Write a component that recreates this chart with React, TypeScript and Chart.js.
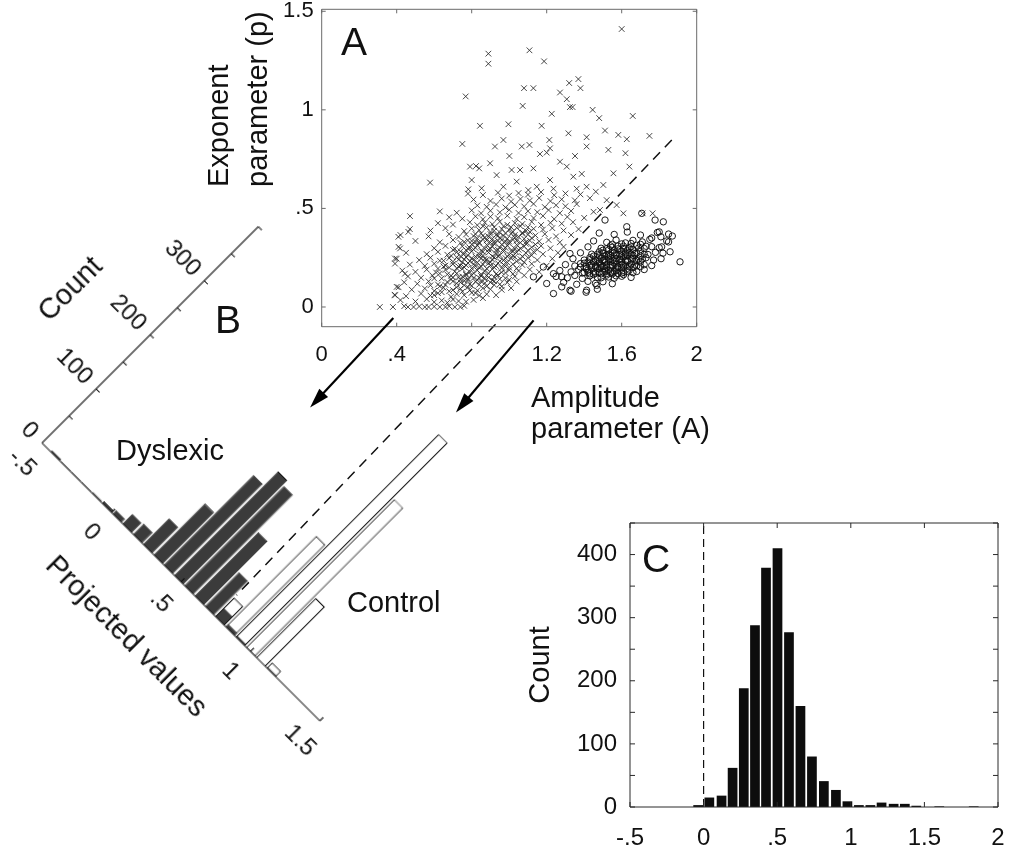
import React, { useEffect, useRef } from 'react';
import { Chart, registerables } from 'chart.js';

Chart.register(...registerables);

const FONT = '"Liberation Sans", Arial, Helvetica, sans-serif';

// ---------- Panel A : scatter of (Amplitude, Exponent) ----------
const dyslexicPts: [number, number][] = [
  [0.31,0],[0.38,0],[0.44,0.004],[0.46,0],[0.49,0],[0.52,0.003],[0.55,0],[0.57,0],[0.6,0.002],[0.63,0],[0.66,0],[0.68,0.004],[0.71,0],[0.74,0],[0.76,0.006],
  [0.42,0.035],[0.5,0.028],[0.56,0.04],[0.6,0.025],[0.64,0.033],[0.67,0.022],[0.7,0.038],[0.73,0.03],[0.77,0.027],[0.81,0.036],[0.86,0.045],
  [0.39,0.062],[0.45,0.055],[0.53,0.068],[0.58,0.058],[0.62,0.07],[0.69,0.052],[0.72,0.066],[0.76,0.06],[0.8,0.072],[0.84,0.058],[0.88,0.065],[0.93,0.06],
  [0.41,0.1],[0.48,0.088],[0.55,0.094],[0.6,0.082],[0.65,0.098],[0.7,0.086],[0.74,0.093],[0.78,0.1],[0.83,0.084],[0.86,0.095],[0.9,0.09],[0.96,0.087],[1.01,0.096],
  [0.44,0.125],[0.51,0.118],[0.57,0.13],[0.62,0.114],[0.67,0.127],[0.72,0.12],[0.76,0.133],[0.79,0.116],[0.82,0.128],[0.87,0.121],[0.92,0.131],[0.95,0.115],[0.99,0.124],[1.04,0.129],
  [0.46,0.155],[0.53,0.148],[0.59,0.16],[0.64,0.145],[0.69,0.158],[0.73,0.151],[0.77,0.163],[0.81,0.147],[0.85,0.157],[0.89,0.15],[0.94,0.162],[0.98,0.146],[1.03,0.155],[1.08,0.16],
  [0.43,0.185],[0.5,0.178],[0.56,0.19],[0.61,0.175],[0.66,0.188],[0.71,0.18],[0.75,0.193],[0.79,0.177],[0.83,0.186],[0.87,0.181],[0.91,0.192],[0.96,0.176],[1.0,0.187],[1.05,0.183],[1.11,0.19],[1.16,0.178],
  [0.47,0.215],[0.55,0.208],[0.6,0.22],[0.65,0.205],[0.7,0.218],[0.74,0.21],[0.78,0.223],[0.82,0.207],[0.86,0.216],[0.9,0.211],[0.94,0.222],[0.98,0.206],[1.02,0.217],[1.07,0.213],[1.12,0.219],[1.2,0.21],
  [0.4,0.245],[0.52,0.238],[0.58,0.25],[0.63,0.235],[0.68,0.248],[0.73,0.24],[0.77,0.253],[0.81,0.237],[0.85,0.246],[0.88,0.241],[0.92,0.252],[0.97,0.236],[1.01,0.247],[1.06,0.243],[1.1,0.25],[1.15,0.238],[1.23,0.245],
  [0.45,0.275],[0.56,0.268],[0.62,0.28],[0.67,0.265],[0.72,0.278],[0.76,0.27],[0.8,0.283],[0.84,0.267],[0.89,0.276],[0.93,0.271],[0.97,0.282],[1.0,0.266],[1.04,0.277],[1.09,0.273],[1.13,0.28],[1.18,0.268],[1.26,0.275],
  [0.41,0.305],[0.6,0.298],[0.66,0.31],[0.71,0.295],[0.75,0.308],[0.79,0.3],[0.83,0.313],[0.87,0.297],[0.91,0.306],[0.95,0.301],[0.99,0.312],[1.03,0.296],[1.08,0.307],[1.12,0.303],[1.17,0.31],[1.22,0.298],[1.29,0.305],
  [0.5,0.335],[0.63,0.328],[0.7,0.34],[0.74,0.325],[0.78,0.338],[0.82,0.33],[0.86,0.343],[0.9,0.327],[0.94,0.336],[0.98,0.331],[1.02,0.342],[1.06,0.326],[1.11,0.337],[1.16,0.333],[1.21,0.34],[1.27,0.328],
  [0.42,0.365],[0.57,0.358],[0.68,0.37],[0.73,0.355],[0.77,0.368],[0.81,0.36],[0.85,0.373],[0.89,0.357],[0.93,0.366],[0.97,0.361],[1.01,0.372],[1.05,0.356],[1.1,0.367],[1.14,0.363],[1.19,0.37],[1.25,0.358],[1.33,0.365],
  [0.47,0.395],[0.58,0.388],[0.66,0.4],[0.76,0.385],[0.8,0.398],[0.84,0.39],[0.88,0.403],[0.92,0.387],[0.96,0.396],[1.0,0.391],[1.04,0.402],[1.09,0.386],[1.13,0.397],[1.18,0.393],[1.23,0.4],[1.29,0.388],[1.37,0.395],
  [0.62,0.425],[0.7,0.418],[0.79,0.43],[0.83,0.415],[0.87,0.428],[0.91,0.42],[0.95,0.433],[0.99,0.417],[1.03,0.426],[1.07,0.421],[1.12,0.432],[1.17,0.416],[1.22,0.427],[1.28,0.423],[1.34,0.43],
  [0.68,0.455],[0.75,0.448],[0.82,0.46],[0.86,0.445],[0.9,0.458],[0.94,0.45],[0.99,0.463],[1.04,0.447],[1.08,0.456],[1.13,0.451],[1.18,0.462],[1.24,0.446],[1.31,0.457],[1.4,0.452],
  [0.63,0.485],[0.72,0.478],[0.8,0.49],[0.85,0.475],[0.9,0.488],[0.95,0.48],[1.0,0.493],[1.05,0.477],[1.1,0.486],[1.15,0.481],[1.21,0.492],[1.27,0.476],[1.33,0.487],[1.45,0.483],
  [0.83,0.515],[0.88,0.508],[0.93,0.52],[0.98,0.505],[1.03,0.518],[1.08,0.51],[1.13,0.523],[1.19,0.507],[1.25,0.516],[1.3,0.511],[1.36,0.522],
  [0.81,0.545],[0.9,0.538],[0.96,0.55],[1.01,0.535],[1.06,0.548],[1.11,0.54],[1.16,0.553],[1.22,0.537],[1.28,0.546],[1.35,0.541],[1.43,0.552],
  [0.78,0.575],[0.86,0.568],[0.94,0.58],[1.0,0.565],[1.05,0.578],[1.1,0.57],[1.17,0.583],[1.24,0.567],[1.3,0.576],[1.38,0.571],
  [0.72,0.1],[0.76,0.11],[0.8,0.107],[0.84,0.113],[0.88,0.105],[0.92,0.112],[0.96,0.104],
  [0.69,0.14],[0.74,0.138],[0.78,0.143],[0.83,0.137],[0.87,0.142],[0.91,0.136],[0.95,0.141],[1.0,0.138],
  [0.72,0.17],[0.77,0.168],[0.81,0.172],[0.85,0.166],[0.89,0.171],[0.93,0.167],[0.98,0.173],[1.02,0.168],
  [0.68,0.2],[0.72,0.197],[0.76,0.202],[0.8,0.196],[0.84,0.2],[0.88,0.195],[0.92,0.201],[0.96,0.197],[1.0,0.2],[1.04,0.196],
  [0.7,0.23],[0.75,0.227],[0.79,0.232],[0.83,0.226],[0.87,0.231],[0.9,0.227],[0.95,0.232],[0.99,0.226],[1.04,0.231],[1.08,0.227],
  [0.74,0.258],[0.78,0.262],[0.82,0.256],[0.86,0.261],[0.91,0.257],[0.95,0.262],[0.99,0.256],[1.02,0.26],[1.07,0.257],[1.12,0.262],
  [0.77,0.288],[0.81,0.292],[0.85,0.286],[0.89,0.291],[0.93,0.287],[0.97,0.292],[1.01,0.286],[1.05,0.29],[1.1,0.287],[1.15,0.291],
  [0.8,0.318],[0.84,0.322],[0.88,0.316],[0.92,0.321],[0.96,0.317],[1.0,0.322],[1.04,0.316],[1.09,0.32],[1.14,0.317],
  [0.83,0.348],[0.87,0.352],[0.91,0.346],[0.95,0.351],[0.99,0.347],[1.03,0.352],[1.08,0.346],[1.12,0.35],
  [0.9,0.38],[0.95,0.378],[1.02,0.382],[1.07,0.377],[1.11,0.381],
  [0.6,0.06],[0.64,0.075],[0.68,0.08],[0.75,0.078],[0.79,0.085],[0.82,0.07],
  [0.58,0.11],[0.63,0.105],[0.66,0.112],[0.7,0.13],[0.74,0.125],[0.78,0.135],[0.85,0.13],[0.9,0.125],
  [0.6,0.145],[0.63,0.17],[0.67,0.165],[0.7,0.15],[0.75,0.155],[0.8,0.16],[0.84,0.148],[0.88,0.16],[0.92,0.152],
  [0.62,0.195],[0.66,0.21],[0.73,0.205],[0.77,0.212],[0.81,0.218],[0.85,0.205],[0.89,0.222],[0.93,0.208],[0.97,0.215],
  [0.65,0.235],[0.69,0.26],[0.72,0.252],[0.76,0.242],[0.8,0.248],[0.84,0.255],[0.87,0.245],[0.91,0.24],[0.94,0.258],[0.98,0.248],[1.03,0.254],
  [0.7,0.29],[0.74,0.282],[0.78,0.296],[0.82,0.3],[0.86,0.28],[0.9,0.295],[0.94,0.29],[0.98,0.3],[1.02,0.283],[1.06,0.296],
  [0.76,0.33],[0.8,0.335],[0.84,0.328],[0.88,0.338],[0.92,0.33],[0.96,0.34],[1.0,0.332],[1.04,0.336],[1.09,0.33],
  [0.82,0.37],[0.86,0.362],[0.9,0.37],[0.94,0.362],[0.98,0.375],[1.03,0.365],[1.07,0.372],
  [0.86,0.41],[0.92,0.405],[0.97,0.41],[1.01,0.405],[1.06,0.41],[1.1,0.405],
  [1.6,1.41],[0.889,1.285],[0.889,1.234],[1.108,1.302],[1.186,1.246],[1.32,1.136],[1.369,1.156],[1.38,1.11],[1.079,1.11],[1.129,1.11],
  [1.271,1.088],[1.307,1.054],[1.324,1.014],[1.338,1.014],[1.072,1.02],[0.768,1.068],[1.445,1.0],[1.48,0.958],[1.659,0.969],[1.227,0.98],
  [0.844,0.919],[0.996,0.927],[1.173,0.919],[1.316,0.881],[1.511,0.895],[1.582,0.873],[1.748,0.868],[1.413,0.861],[1.627,0.851],[0.75,0.827],
  [0.924,0.814],[0.969,0.847],[1.067,0.814],[1.108,0.822],[1.214,0.847],[1.218,0.805],[1.413,0.814],[1.529,0.797],[1.62,0.78],[1.001,0.766],
  [1.164,0.776],[1.2,0.783],[1.351,0.766],[0.898,0.729],[1.271,0.737],[1.307,0.712],[0.791,0.712],[0.823,0.715],[0.84,0.703],[1.013,0.695],
  [1.058,0.695],[1.129,0.703],[1.641,0.712],[1.556,0.678],[1.387,0.675],[0.933,0.669],[1.342,0.661],[1.218,0.644],[0.578,0.631],[0.8,0.644],
  [0.853,0.602],[0.782,0.597],[1.04,0.636],[0.969,0.61],[1.102,0.593],[1.147,0.61],[1.236,0.6],[1.36,0.6],[1.413,0.61],[1.502,0.619],
  [1.462,0.585],[1.573,0.517],[1.609,0.475],[1.52,0.542],[1.712,0.475],[1.765,0.475],[1.484,0.492],[0.471,0.461],[0.409,0.356],[0.462,0.381],
  [0.418,0.297],[0.391,0.246],[0.391,0.22],[0.444,0.169],[0.4,0.102],[0.391,0.059]
];

const controlPts: [number, number][] = [
  [1.707,0.475],[1.778,0.441],[1.822,0.432],[1.511,0.441],[1.627,0.407],[1.8,0.381],[1.809,0.356],[1.911,0.229],[1.858,0.28],[1.813,0.305],
  [1.236,0.068],[1.182,0.203],[1.129,0.153],[1.2,0.119],[1.28,0.102],[1.324,0.085],[1.413,0.085],[1.467,0.11],[1.236,0.169],[1.324,0.271],
  [1.28,0.153],[1.85,0.33],[1.87,0.36],[1.76,0.35],
  [1.33,0.08],[1.41,0.075],[1.47,0.09],
  [1.29,0.125],[1.36,0.115],[1.42,0.13],[1.46,0.12],[1.5,0.128],[1.55,0.118],
  [1.25,0.155],[1.31,0.148],[1.35,0.16],[1.39,0.145],[1.43,0.158],[1.47,0.15],[1.52,0.162],[1.56,0.146],[1.6,0.156],[1.65,0.15],
  [1.27,0.185],[1.33,0.178],[1.37,0.19],[1.4,0.175],[1.42,0.188],[1.45,0.18],[1.48,0.193],[1.5,0.177],[1.53,0.186],[1.56,0.181],[1.58,0.192],[1.61,0.176],[1.64,0.187],[1.68,0.18],[1.72,0.19],
  [1.3,0.215],[1.35,0.208],[1.38,0.22],[1.41,0.205],[1.44,0.218],[1.46,0.21],[1.48,0.223],[1.5,0.207],[1.52,0.216],[1.54,0.211],[1.56,0.222],[1.58,0.206],[1.6,0.217],[1.62,0.213],[1.65,0.219],[1.68,0.208],[1.72,0.215],[1.76,0.21],
  [1.34,0.245],[1.4,0.238],[1.43,0.25],[1.46,0.235],[1.49,0.248],[1.51,0.24],[1.53,0.253],[1.55,0.237],[1.57,0.246],[1.59,0.241],[1.61,0.252],[1.63,0.236],[1.66,0.247],[1.69,0.243],[1.73,0.25],[1.77,0.238],[1.81,0.245],
  [1.38,0.275],[1.44,0.268],[1.48,0.28],[1.52,0.265],[1.55,0.278],[1.57,0.27],[1.6,0.283],[1.62,0.267],[1.64,0.276],[1.67,0.271],[1.7,0.282],[1.74,0.266],[1.78,0.277],[1.82,0.273],
  [1.42,0.305],[1.49,0.298],[1.54,0.31],[1.58,0.295],[1.61,0.308],[1.64,0.3],[1.68,0.313],[1.72,0.297],[1.76,0.306],[1.8,0.301],
  [1.45,0.335],[1.52,0.328],[1.57,0.34],[1.62,0.325],[1.66,0.338],[1.71,0.33],[1.75,0.343],[1.84,0.335],
  [1.48,0.375],[1.56,0.368],[1.63,0.38],[1.7,0.365],[1.79,0.378],[1.85,0.37],
  [1.41,0.195],[1.44,0.2],[1.47,0.198],[1.49,0.2],[1.51,0.195],[1.54,0.2],[1.57,0.198],[1.6,0.2],[1.63,0.196],[1.66,0.2],
  [1.42,0.228],[1.45,0.23],[1.48,0.232],[1.51,0.228],[1.54,0.23],[1.57,0.232],[1.6,0.228],[1.63,0.23],[1.67,0.232],[1.7,0.228],
  [1.45,0.258],[1.48,0.26],[1.51,0.258],[1.54,0.26],[1.57,0.262],[1.6,0.258],[1.63,0.26],[1.66,0.262],[1.7,0.26],
  [1.5,0.288],[1.53,0.29],[1.56,0.288],[1.59,0.29],[1.63,0.288],[1.66,0.29],
  [1.43,0.168],[1.46,0.17],[1.49,0.168],[1.52,0.17],[1.55,0.168],[1.58,0.17],
  [1.39,0.172],[1.42,0.176],[1.45,0.165],[1.48,0.175],[1.51,0.182],[1.54,0.176],[1.57,0.183],[1.6,0.172],[1.63,0.18],[1.66,0.174],
  [1.38,0.203],[1.43,0.21],[1.46,0.203],[1.49,0.212],[1.52,0.204],[1.55,0.213],[1.58,0.202],[1.61,0.21],[1.64,0.204],[1.67,0.213],[1.7,0.205],
  [1.4,0.222],[1.43,0.24],[1.47,0.243],[1.5,0.236],[1.53,0.244],[1.56,0.235],[1.59,0.243],[1.62,0.235],[1.65,0.243],[1.68,0.236],[1.71,0.243],
  [1.47,0.267],[1.5,0.274],[1.53,0.268],[1.56,0.275],[1.59,0.266],[1.62,0.274],[1.65,0.268],[1.68,0.275],[1.72,0.268],
  [1.52,0.296],[1.55,0.303],[1.58,0.309],[1.61,0.297],[1.65,0.305],[1.69,0.299],[1.73,0.308],
  [1.49,0.148],[1.53,0.152],[1.57,0.158],[1.61,0.164],
  [1.55,0.318],[1.6,0.32],[1.65,0.322],[1.7,0.318]
];

// dashed separating line and projection arrows (in panel-A data units)
const boundaryLine: [number, number][] = [[1.867, 0.847], [-0.454, -1.462]];
const arrowFrom: [number, number][] = [[0.382, -0.056], [1.13, -0.068]];
const arrowTo: [number, number][] = [[-0.062, -0.51], [0.716, -0.535]];

const ampTicks = [0, 0.4, 0.8, 1.2, 1.6, 2];
const expTicks = [0, 0.5, 1, 1.5];

// ---------- Panel B : projected histograms ----------
const projBins = [-0.404, -0.33, -0.256, -0.182, -0.108, -0.034, 0.04, 0.114, 0.188, 0.262, 0.336, 0.41, 0.484, 0.558, 0.632, 0.706, 0.78, 0.854, 0.928, 1.002, 1.076, 1.15];
const dyslexicCounts = [3, 1, 1, 1, 2, 4, 7, 18, 20, 48, 95, 166, 192, 184, 118, 63, 16, 5, 3, 1, 0, 2];
const controlBins = [0.78, 0.854, 0.928, 1.002, 1.076, 1.15];
const controlCounts = [35, 168, 375, 274, 110, 10];
const projTicks = [-0.5, 0, 0.5, 1, 1.5];
const countTicksB = [0, 50, 100, 150, 200, 250, 300, 350, 400];

// ---------- Panel C : histogram ----------
const cBins = [-0.037, 0.039, 0.122, 0.197, 0.273, 0.349, 0.424, 0.502, 0.58, 0.658, 0.736, 0.817, 0.899, 0.977, 1.055, 1.133, 1.209, 1.291, 1.367, 1.445, 1.523, 1.601, 1.679, 1.757, 1.835];
const cCounts = [3, 15, 18, 62, 188, 288, 379, 410, 277, 160, 80, 41, 27, 9, 3, 3, 7, 5, 5, 2, 0, 1, 0, 0, 1];
const cTicksX = [-0.5, 0, 0.5, 1, 1.5, 2];
const cTicksY = [0, 100, 200, 300, 400];
const cMarksY = [0, 50, 100, 150, 200, 250, 300, 350, 400, 450];

const fmt = (v: number) => {
  const r = Math.round(v * 100) / 100;
  let s = String(r);
  if (s.startsWith('0.')) s = s.slice(1);
  else if (s.startsWith('-0.')) s = '-' + s.slice(2);
  return s;
};

const frameTicks: any = {
  id: 'frameTicks',
  afterDatasetsDraw(chart: any, _args: any, opts: any) {
    const { ctx, chartArea } = chart;
    const { left, right, top, bottom } = chartArea;
    const xs = chart.scales.x;
    const ys = chart.scales.y;
    const sides: string[] = opts.sides || [];
    const len = opts.len || 5;
    ctx.save();
    ctx.strokeStyle = opts.color || '#000';
    ctx.lineWidth = opts.width || 1;
    ctx.setLineDash([]);
    ctx.beginPath();
    if (sides.includes('left')) { ctx.moveTo(left, top); ctx.lineTo(left, bottom); }
    if (sides.includes('right')) { ctx.moveTo(right, top); ctx.lineTo(right, bottom); }
    if (sides.includes('top')) { ctx.moveTo(left, top); ctx.lineTo(right, top); }
    if (sides.includes('bottom')) { ctx.moveTo(left, bottom); ctx.lineTo(right, bottom); }
    (opts.xTicks || []).forEach((v: number) => {
      const px = xs.getPixelForValue(v);
      if (sides.includes('bottom')) { ctx.moveTo(px, bottom); ctx.lineTo(px, bottom - len); }
      if (sides.includes('top')) { ctx.moveTo(px, top); ctx.lineTo(px, top + len); }
    });
    (opts.yTicks || []).forEach((v: number) => {
      const py = ys.getPixelForValue(v);
      if (sides.includes('left')) { ctx.moveTo(left, py); ctx.lineTo(left + len, py); }
      if (sides.includes('right')) { ctx.moveTo(right, py); ctx.lineTo(right - len, py); }
    });
    ctx.stroke();
    ctx.restore();
  },
};

const arrowPlugin: any = {
  id: 'arrows',
  afterDatasetsDraw(chart: any, _args: any, opts: any) {
    if (!opts || !opts.from) return;
    const { ctx } = chart;
    const xs = chart.scales.x;
    const ys = chart.scales.y;
    ctx.save();
    ctx.strokeStyle = '#000';
    ctx.fillStyle = '#000';
    ctx.setLineDash([]);
    opts.from.forEach((f: [number, number], i: number) => {
      const t = opts.to[i];
      const x0 = xs.getPixelForValue(f[0]);
      const y0 = ys.getPixelForValue(f[1]);
      const x1 = xs.getPixelForValue(t[0]);
      const y1 = ys.getPixelForValue(t[1]);
      const ang = Math.atan2(y1 - y0, x1 - x0);
      const hl = opts.headLen;
      const hw = opts.headWidth;
      const bx = x1 - hl * Math.cos(ang);
      const by = y1 - hl * Math.sin(ang);
      ctx.lineWidth = opts.width;
      ctx.beginPath();
      ctx.moveTo(x0, y0);
      ctx.lineTo(bx + 2 * Math.cos(ang), by + 2 * Math.sin(ang));
      ctx.stroke();
      ctx.beginPath();
      ctx.moveTo(x1, y1);
      ctx.lineTo(bx + hw * Math.sin(ang), by - hw * Math.cos(ang));
      ctx.lineTo(bx - hw * Math.sin(ang), by + hw * Math.cos(ang));
      ctx.closePath();
      ctx.fill();
    });
    ctx.restore();
  },
};

const fixBox = (w: number | null, h: number | null) => (s: any) => {
  if (w !== null) s.width = w;
  if (h !== null) s.height = h;
  s.paddingLeft = 0;
  s.paddingRight = 0;
  s.paddingTop = 0;
  s.paddingBottom = 0;
};

function makeA(canvas: HTMLCanvasElement) {
  return new Chart(canvas, {
    type: 'scatter',
    data: {
      datasets: [
        {
          label: 'Dyslexic',
          data: dyslexicPts.map(([x, y]) => ({ x, y })),
          pointStyle: 'crossRot',
          pointRadius: 4,
          pointBorderColor: 'rgba(40,40,40,0.85)',
          pointBackgroundColor: 'rgba(0,0,0,0)',
          pointBorderWidth: 1,
        } as any,
        {
          label: 'Control',
          data: controlPts.map(([x, y]) => ({ x, y })),
          pointStyle: 'circle',
          pointRadius: 3.2,
          pointBorderColor: 'rgba(15,15,15,0.95)',
          pointBackgroundColor: 'rgba(0,0,0,0)',
          pointBorderWidth: 1,
        } as any,
        {
          label: 'Boundary',
          data: boundaryLine.map(([x, y]) => ({ x, y })),
          showLine: true,
          borderColor: '#111',
          borderWidth: 1.5,
          borderDash: [10, 7],
          pointRadius: 0,
          clip: false,
          fill: false,
        } as any,
      ],
    },
    options: {
      responsive: false,
      animation: false,
      events: [],
      layout: { padding: { left: 281.7, top: 9.3, right: 63.3, bottom: 253.3 } },
      plugins: {
        legend: { display: false },
        tooltip: { enabled: false },
        frameTicks: { sides: ['left', 'right', 'top', 'bottom'], color: '#6a6a6a', width: 1, len: 4, xTicks: ampTicks, yTicks: expTicks },
        arrows: { from: arrowFrom, to: arrowTo, width: 2.2, headLen: 20, headWidth: 6 },
      } as any,
      scales: {
        x: {
          type: 'linear', min: 0, max: 2,
          grid: { display: false, drawTicks: false },
          border: { display: false },
          ticks: {
            padding: 15, color: '#111', font: { size: 22, family: FONT },
            callback: (v: any) => (Math.abs(v - 0.8) < 1e-6 ? '' : fmt(v)),
          },
          afterBuildTicks: (s: any) => { s.ticks = ampTicks.map((v) => ({ value: v })); },
          afterFit: fixBox(null, 40),
        },
        y: {
          type: 'linear', min: -0.1, max: 1.51,
          grid: { display: false, drawTicks: false },
          border: { display: false },
          ticks: { padding: 8, color: '#111', font: { size: 22, family: FONT }, callback: (v: any) => fmt(v) },
          afterBuildTicks: (s: any) => { s.ticks = expTicks.map((v) => ({ value: v })); },
          afterFit: fixBox(40, null),
        },
      } as any,
    },
    plugins: [frameTicks, arrowPlugin],
  } as any);
}

function makeB(canvas: HTMLCanvasElement) {
  return new Chart(canvas, {
    type: 'bar',
    data: {
      datasets: [
        {
          label: 'Dyslexic',
          data: projBins.map((x, i) => ({ x, y: dyslexicCounts[i] })),
          backgroundColor: '#3b3b3b',
          borderColor: '#111',
          borderWidth: 0.8,
          grouped: false,
          barPercentage: 0.9,
          categoryPercentage: 1,
        } as any,
        {
          label: 'Control',
          data: controlBins.map((x, i) => ({ x, y: controlCounts[i] })),
          backgroundColor: '#ffffff',
          borderColor: '#111',
          borderWidth: 1.2,
          grouped: false,
          barPercentage: 0.9,
          categoryPercentage: 1,
        } as any,
      ],
    },
    options: {
      responsive: false,
      animation: false,
      events: [],
      layout: { padding: { left: 0, top: 12, right: 20, bottom: 0 } },
      plugins: {
        legend: { display: false },
        tooltip: { enabled: false },
        frameTicks: { sides: ['left', 'bottom'], color: '#111', width: 1.2, len: 5, xTicks: projTicks, yTicks: countTicksB },
      } as any,
      scales: {
        x: {
          type: 'linear', min: -0.5, max: 1.5, offset: false,
          grid: { display: false, drawTicks: false },
          border: { display: false },
          ticks: { padding: 14, color: '#111', font: { size: 24, family: FONT }, callback: (v: any) => fmt(v) },
          afterBuildTicks: (s: any) => { s.ticks = projTicks.map((v) => ({ value: v })); },
          title: { display: true, text: 'Projected values', color: '#111', font: { size: 29, family: FONT }, padding: { top: 0, bottom: 5 } },
          afterFit: fixBox(null, 100),
        },
        y: {
          type: 'linear', min: 0, max: 400,
          grid: { display: false, drawTicks: false },
          border: { display: false },
          ticks: {
            padding: 11, color: '#111', font: { size: 24, family: FONT },
            callback: (v: any) => (v % 100 === 0 && v < 400 ? String(v) : ''),
          },
          afterBuildTicks: (s: any) => { s.ticks = countTicksB.map((v) => ({ value: v })); },
          title: { display: true, text: 'Count      ', color: '#111', font: { size: 29, family: FONT }, padding: { top: 5, bottom: 0 } },
          afterFit: fixBox(110, null),
        },
      } as any,
    },
    plugins: [frameTicks],
  } as any);
}

function makeC(canvas: HTMLCanvasElement) {
  return new Chart(canvas, {
    type: 'bar',
    data: {
      datasets: [
        {
          type: 'line',
          label: 'zero',
          data: [{ x: 0, y: 0 }, { x: 0, y: 450 }],
          borderColor: '#111',
          borderWidth: 1.2,
          borderDash: [8, 5],
          pointRadius: 0,
          fill: false,
        } as any,
        {
          label: 'Count',
          data: cBins.map((x, i) => ({ x, y: cCounts[i] })),
          backgroundColor: '#0d0d0d',
          borderWidth: 0,
          barPercentage: 0.88,
          categoryPercentage: 1,
        } as any,
      ],
    },
    options: {
      responsive: false,
      animation: false,
      events: [],
      layout: { padding: { left: 10, top: 43, right: 17, bottom: 0 } },
      plugins: {
        legend: { display: false },
        tooltip: { enabled: false },
        frameTicks: { sides: ['left', 'right', 'top', 'bottom'], color: '#2a2a2a', width: 1, len: 5, xTicks: cTicksX, yTicks: cMarksY },
      } as any,
      scales: {
        x: {
          type: 'linear', min: -0.5, max: 2, offset: false,
          grid: { display: false, drawTicks: false },
          border: { display: false },
          ticks: { padding: 17, color: '#111', font: { size: 24, family: FONT }, callback: (v: any) => fmt(v) },
          afterBuildTicks: (s: any) => { s.ticks = cTicksX.map((v) => ({ value: v })); },
          afterFit: fixBox(null, 44),
        },
        y: {
          type: 'linear', min: 0, max: 450,
          grid: { display: false, drawTicks: false },
          border: { display: false },
          ticks: { padding: 13, color: '#111', font: { size: 24, family: FONT }, callback: (v: any) => String(v) },
          afterBuildTicks: (s: any) => { s.ticks = cTicksY.map((v) => ({ value: v })); },
          title: { display: true, text: 'Count', color: '#111', font: { size: 29, family: FONT }, padding: { top: 14, bottom: 0 } },
          afterFit: fixBox(120, null),
        },
      } as any,
    },
    plugins: [frameTicks],
  } as any);
}

const textStyle = (left: number, top: number, size: number, lh: number): React.CSSProperties => ({
  position: 'absolute',
  left,
  top,
  fontSize: size,
  lineHeight: `${lh}px`,
  fontFamily: FONT,
  color: '#111',
  whiteSpace: 'pre',
});

export default function App() {
  const aRef = useRef<HTMLCanvasElement>(null);
  const bRef = useRef<HTMLCanvasElement>(null);
  const cRef = useRef<HTMLCanvasElement>(null);

  useEffect(() => {
    Chart.defaults.font.family = FONT;
    Chart.defaults.color = '#111';
    const charts = [makeB(bRef.current!), makeC(cRef.current!), makeA(aRef.current!)];
    return () => charts.forEach((c) => c.destroy());
  }, []);

  return (
    <div style={{ position: 'absolute', left: 0, top: 0, width: 1015, height: 851, overflow: 'hidden', background: '#fff' }}>
      <canvas
        ref={bRef}
        width={523}
        height={418}
        style={{ position: 'absolute', left: 42 - 110, top: 443 - 318, width: 523, height: 418, transform: 'rotate(45deg)', transformOrigin: '110px 318px' }}
      />
      <canvas ref={cRef} width={515} height={371} style={{ position: 'absolute', left: 500, top: 480, width: 515, height: 371 }} />
      <canvas ref={aRef} width={760} height={620} style={{ position: 'absolute', left: 0, top: 0, width: 760, height: 620 }} />

      <div style={{ ...textStyle(198.5, 187, 29, 39), transform: 'rotate(-90deg)', transformOrigin: 'left top' }}>
        {'Exponent\nparameter (p)'}
      </div>
      <div style={textStyle(531, 381.5, 29, 31)}>{'Amplitude\nparameter (A)'}</div>
      <div style={textStyle(341, 22, 39, 39)}>A</div>
      <div style={textStyle(215, 300, 39, 39)}>B</div>
      <div style={textStyle(642, 539, 39, 39)}>C</div>
      <div style={textStyle(116, 436, 29, 29)}>Dyslexic</div>
      <div style={textStyle(347, 588, 29, 29)}>Control</div>
    </div>
  );
}
